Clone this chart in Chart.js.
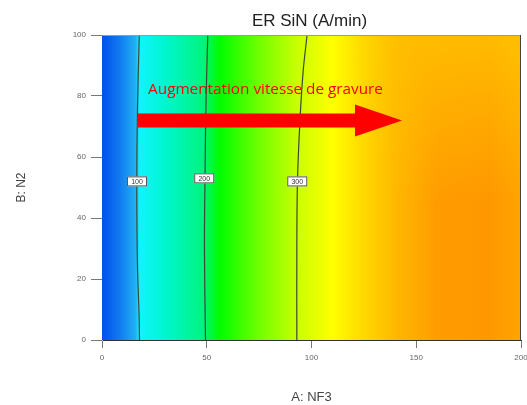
<!DOCTYPE html>
<html>
<head>
<meta charset="utf-8">
<script src="https://cdn.jsdelivr.net/npm/chart.js@4/dist/chart.umd.min.js"></script>
<style>
  html, body { margin: 0; padding: 0; background: #fff; }
  #wrap { width: 527px; height: 405px; }
</style>
</head>
<body>
<div id="wrap"><canvas id="myChart" width="527" height="405"></canvas></div>
<script>
// axis ticks
const xTicks = [0, 50, 100, 150, 200];
const yTicks = [0, 20, 40, 60, 80, 100];

// colour field along A: NF3 (response rises left to right)
const fieldStopX = [0, 8, 16, 18, 30, 48, 56, 75, 93, 110, 125, 140, 160, 185, 200];
const fieldStopColor = ['#0050ee', '#1078f0', '#20b0f4', '#10f4fc', '#00f6d0', '#00f480', '#00fc00', '#70ff00',
  '#c8ff00', '#ffff00', '#ffd800', '#ffb800', '#ff9c00', '#ff9800', '#ffa400'];
// the orange side gets a little yellower towards high N2
const tintFromX = 120;
const tintColor = 'rgba(255, 215, 0, 0.55)';

// contour lines (x = NF3, y = N2)
const contourLevels = ['100', '200', '300'];
const contour100 = [{x: 17.9, y: 0}, {x: 17.7, y: 8}, {x: 16.9, y: 25}, {x: 16.6, y: 50}, {x: 16.9, y: 75}, {x: 17.8, y: 100}];
const contour200 = [{x: 49.4, y: 0}, {x: 48.9, y: 30}, {x: 49.2, y: 55}, {x: 49.7, y: 80}, {x: 50.5, y: 100}];
const contour300 = [{x: 93.0, y: 0}, {x: 93.0, y: 30}, {x: 93.3, y: 52}, {x: 94.5, y: 72}, {x: 96.0, y: 88}, {x: 97.9, y: 100}];
const labelX = [16.7, 48.8, 93.2];
const labelY = [52, 53, 52];

// annotation arrow
const arrowFrom = 17.2;
const arrowTo = 143.2;
const arrowY = 72;
const arrowText = 'Augmentation vitesse de gravure';
const arrowTextX = 22;
const arrowTextY = 80.5;

// paint the colour field behind the contours
const fieldPlugin = {
  id: 'field',
  beforeDatasetsDraw(chart) {
    const ctx = chart.ctx;
    const a = chart.chartArea;
    const xs = chart.scales.x;
    const x0 = xs.getPixelForValue(0);
    const x1 = xs.getPixelForValue(200);
    const grad = ctx.createLinearGradient(x0, 0, x1, 0);
    fieldStopX.forEach((v, i) => grad.addColorStop(v / 200, fieldStopColor[i]));
    ctx.save();
    ctx.fillStyle = grad;
    ctx.fillRect(a.left, a.top, a.right - a.left, a.bottom - a.top);
    ctx.restore();

    // yellow tint near the top right, faded in both directions
    const w = Math.round(a.right - a.left);
    const h = Math.round(a.bottom - a.top);
    const off = document.createElement('canvas');
    off.width = w;
    off.height = h;
    const o = off.getContext('2d');
    const vg = o.createLinearGradient(0, 0, 0, h);
    vg.addColorStop(0, tintColor);
    vg.addColorStop(0.55, 'rgba(255, 215, 0, 0)');
    o.fillStyle = vg;
    o.fillRect(0, 0, w, h);
    const hg = o.createLinearGradient(xs.getPixelForValue(tintFromX) - a.left, 0, w, 0);
    hg.addColorStop(0, 'rgba(0,0,0,0)');
    hg.addColorStop(0.5, 'rgba(0,0,0,1)');
    hg.addColorStop(1, 'rgba(0,0,0,1)');
    o.globalCompositeOperation = 'destination-in';
    o.fillStyle = hg;
    o.fillRect(0, 0, w, h);
    ctx.drawImage(off, a.left, a.top);
  },
  afterDatasetsDraw(chart) {
    const ctx = chart.ctx;
    const a = chart.chartArea;
    const xs = chart.scales.x;
    const ys = chart.scales.y;

    // contour labels
    ctx.save();
    ctx.font = '7px "Liberation Sans", Arial, sans-serif';
    ctx.textAlign = 'center';
    ctx.textBaseline = 'middle';
    contourLevels.forEach((lv, i) => {
      const px = xs.getPixelForValue(labelX[i]);
      const py = ys.getPixelForValue(labelY[i]);
      ctx.fillStyle = '#fff';
      ctx.fillRect(px - 10, py - 5, 20, 10);
      ctx.strokeStyle = '#555';
      ctx.lineWidth = 1;
      ctx.strokeRect(px - 10 + 0.5, py - 5 + 0.5, 19, 9);
      ctx.fillStyle = '#333';
      ctx.fillText(lv, px, py + 0.5);
    });
    ctx.restore();

    // frame
    ctx.save();
    ctx.lineWidth = 1;
    ctx.strokeStyle = '#9a9a9a';
    ctx.beginPath();
    ctx.moveTo(a.left, a.top + 0.5);
    ctx.lineTo(a.right, a.top + 0.5);
    ctx.stroke();
    ctx.strokeStyle = '#444';
    ctx.beginPath();
    ctx.moveTo(a.right - 0.5, a.top);
    ctx.lineTo(a.right - 0.5, a.bottom);
    ctx.stroke();
    ctx.restore();

    // arrow
    const ax0 = xs.getPixelForValue(arrowFrom);
    const ax1 = xs.getPixelForValue(arrowTo);
    const ay = ys.getPixelForValue(arrowY);
    ctx.save();
    ctx.fillStyle = '#ff0000';
    ctx.beginPath();
    ctx.moveTo(ax0, ay - 7);
    ctx.lineTo(ax1 - 47, ay - 7);
    ctx.lineTo(ax1 - 47, ay - 16);
    ctx.lineTo(ax1, ay);
    ctx.lineTo(ax1 - 47, ay + 16);
    ctx.lineTo(ax1 - 47, ay + 7);
    ctx.lineTo(ax0, ay + 7);
    ctx.closePath();
    ctx.fill();
    ctx.font = '15.3px "Open Sans", sans-serif';
    ctx.textAlign = 'left';
    ctx.textBaseline = 'alphabetic';
    ctx.fillText(arrowText, xs.getPixelForValue(arrowTextX), ys.getPixelForValue(arrowTextY));
    ctx.restore();

    // title
    ctx.save();
    ctx.font = '17px "Liberation Sans", Arial, sans-serif';
    ctx.fillStyle = '#222';
    ctx.textAlign = 'center';
    ctx.textBaseline = 'middle';
    ctx.fillText('ER SiN (A/min)', (a.left + a.right) / 2 - 2, a.top - 14);
    ctx.restore();
  }
};

const lineStyle = {
  type: 'line',
  borderColor: '#3a4a3a',
  borderWidth: 1.2,
  pointRadius: 0,
  tension: 0.35,
  fill: false
};

const ctx = document.getElementById('myChart').getContext('2d');
const chart = new Chart(ctx, {
  type: 'scatter',
  data: {
    datasets: [
      Object.assign({label: '100', data: contour100}, lineStyle),
      Object.assign({label: '200', data: contour200}, lineStyle),
      Object.assign({label: '300', data: contour300}, lineStyle)
    ]
  },
  options: {
    responsive: false,
    animation: false,
    layout: { padding: { top: 35, right: 6, left: 0, bottom: 0 } },
    plugins: {
      legend: { display: false },
      tooltip: { enabled: false }
    },
    scales: {
      x: {
        type: 'linear',
        min: 0,
        max: 200,
        afterFit: s => { s.height = 65; s.paddingLeft = 0; s.paddingRight = 0; },
        afterBuildTicks: s => { s.ticks = xTicks.map(v => ({value: v})); },
        grid: { drawOnChartArea: false, tickLength: 8, tickColor: '#777' },
        border: { color: '#333', width: 1 },
        ticks: { padding: 5, color: '#666', font: { size: 8, family: '"Liberation Sans", Arial' }, maxRotation: 0 },
        title: { display: true, text: 'A: NF3', color: '#444', padding: 0,
          font: { size: 13, family: '"Liberation Sans", Arial' } }
      },
      y: {
        type: 'linear',
        min: 0,
        max: 100,
        afterFit: s => { s.width = 102; s.paddingTop = 0; s.paddingBottom = 0; },
        afterBuildTicks: s => { s.ticks = yTicks.map(v => ({value: v})); },
        grid: { drawOnChartArea: false, tickLength: 11, tickColor: '#777' },
        border: { color: '#bbb', width: 1 },
        ticks: { padding: 5, color: '#666', font: { size: 8, family: '"Liberation Sans", Arial' } },
        title: { display: true, text: 'B: N2', color: '#444', padding: 14,
          font: { size: 12, family: '"Liberation Sans", Arial' } }
      }
    }
  },
  plugins: [fieldPlugin]
});
</script>
</body>
</html>
